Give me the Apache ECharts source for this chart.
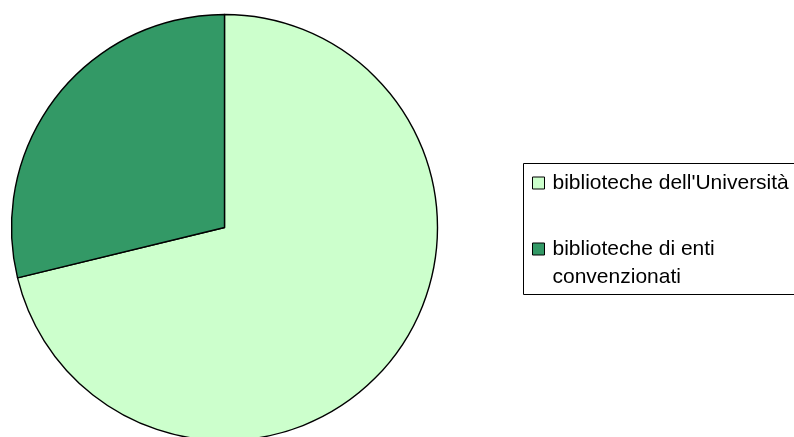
<!DOCTYPE html>
<html>
<head>
<meta charset="utf-8">
<script src="https://cdn.jsdelivr.net/npm/echarts@6/dist/echarts.min.js"></script>
<style>
html,body{margin:0;padding:0;background:#fff;}
#c{width:794px;height:437px;}
</style>
</head>
<body>
<div id="c"></div>
<script>
const categories = ["biblioteche dell'Università", "biblioteche di enti convenzionati"];
const legendLabels = ["biblioteche dell'Università", "\nbiblioteche di enti\nconvenzionati"];
const values = [71.2, 28.8];
const colors = ["#CCFFCC", "#339966"];

const LH = 28;
const chart = echarts.init(document.getElementById('c'), null, {renderer: 'canvas'});
chart.setOption({
  animation: false,
  backgroundColor: '#ffffff',
  graphic: [{
    type: 'rect',
    shape: {x: 523.5, y: 163.5, width: 300, height: 131},
    style: {fill: 'none', stroke: '#000', lineWidth: 1},
    z: 0
  }],
  legend: {
    orient: 'vertical',
    left: 532,
    top: 169,
    padding: 0,
    itemGap: 10,
    itemWidth: 12,
    itemHeight: 12,
    icon: 'rect',
    itemStyle: {borderColor: '#000', borderWidth: 1},
    formatter: function (name) { return legendLabels[categories.indexOf(name)]; },
    textStyle: {fontFamily: 'Liberation Sans, Arial, sans-serif', fontSize: 21, color: '#000', lineHeight: LH, padding: [0, 0, 0, 3]}
  },
  series: [{
    type: 'pie',
    center: [224.5, 227.5],
    radius: 213,
    startAngle: 90,
    clockwise: true,
    label: {show: false},
    labelLine: {show: false},
    emphasis: {disabled: true},
    itemStyle: {borderColor: '#000', borderWidth: 1.4},
    data: categories.map((c, i) => ({name: c, value: values[i], itemStyle: {color: colors[i]}}))
  }]
});
</script>
</body>
</html>
